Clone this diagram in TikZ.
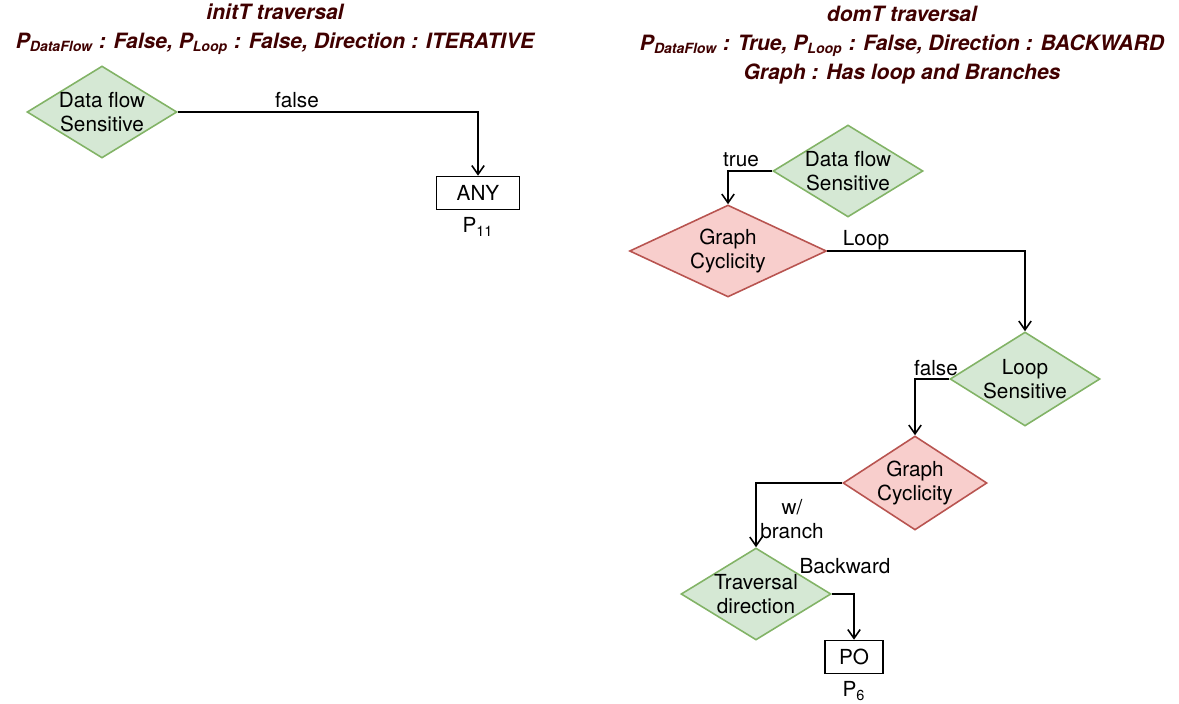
\documentclass[tikz,border=0pt]{standalone}
\usepackage{fontspec}
\setmainfont{TeX Gyre Heros}
\usetikzlibrary{shapes.geometric,arrows.meta}
\definecolor{sensfill}{HTML}{D5E8D4}
\definecolor{sensline}{HTML}{82B366}
\definecolor{cycfill}{HTML}{F8CECC}
\definecolor{cycline}{HTML}{B85450}
\definecolor{titlered}{HTML}{400000}

\begin{document}
\begin{tikzpicture}[x=0.02cm, y=-0.02cm,
		font=\fontsize{11.8}{13.6}\selectfont,
		sens/.style={diamond, draw=sensline, fill=sensfill, line width=0.9pt, inner sep=-5pt, shape aspect=1.6, align=center, minimum width=3cm, minimum height=1.84cm},
		cyc/.style={sens, draw=cycline, fill=cycfill},
		result/.style={rectangle, draw, line width=0.9pt, inner sep=0pt, minimum height=0.66cm},
		flow/.style={line width=0.9pt, -{Straight Barb[length=5pt,width=7pt]}},
		heading/.style={text=titlered, align=center, font=\bfseries\itshape\fontsize{12}{16.5}\selectfont}]
		%%%%% START %%%%%
		\useasboundingbox (0,0) rectangle (1179,703);
		
		% initT
		\node[heading] (inittitle) at (275,29) {initT traversal\\P\textsubscript{DataFlow} : False, P\textsubscript{Loop} : False, Direction : ITERATIVE};
		\node[sens] (initdf) at (102,112) {Data flow\\Sensitive};
		\node[result, minimum width=1.66cm] (any) at (478,193) {ANY};
		\node (anyp) at (478,227) {P\textsubscript{11}};
		\draw[flow] (initdf.east) -| (any.north);
		\node (initfalse) at (297,100) {false};
		
		% domT
		\node[heading] (domtitle) at (902,45) {domT traversal\\P\textsubscript{DataFlow} : True, P\textsubscript{Loop} : False, Direction : BACKWARD\\Graph : Has loop and Branches};
		\node[sens] (domdf) at (848,171) {Data flow\\Sensitive};
		\node[cyc, minimum width=3.94cm] (domgc) at (728,251) {Graph\\Cyclicity};
		\node[sens, minimum height=1.88cm] (domls) at (1025,379) {Loop\\Sensitive};
		\node[cyc, minimum width=2.88cm, minimum height=1.88cm] (domgcb) at (915,483) {Graph\\Cyclicity};
		\node[sens] (domtd) at (756,594) {Traversal\\direction};
		\node[result, minimum width=1.16cm] (po) at (854,657) {PO};
		\node (pop) at (854,691) {P\textsubscript{6}};
		
		\draw[flow] (domdf.west) -| (domgc.north);
		\draw[flow] (domgc.east) -| (domls.north);
		\draw[flow] (domls.west) -| (domgcb.north);
		\draw[flow] (domgcb.west) -| (domtd.north);
		\draw[flow] (domtd.east) -| (po.north);
		
		\node (domtrue) at (741,160) {true};
		\node (domloop) at (866,240) {Loop};
		\node (domfalse) at (936,368) {false};
		\node[align=center] (dombranch) at (792,519) {w/\\branch};
		\node (dombackward) at (845,566) {Backward};
		%%%%% END %%%%%
	\end{tikzpicture}
\end{document}
